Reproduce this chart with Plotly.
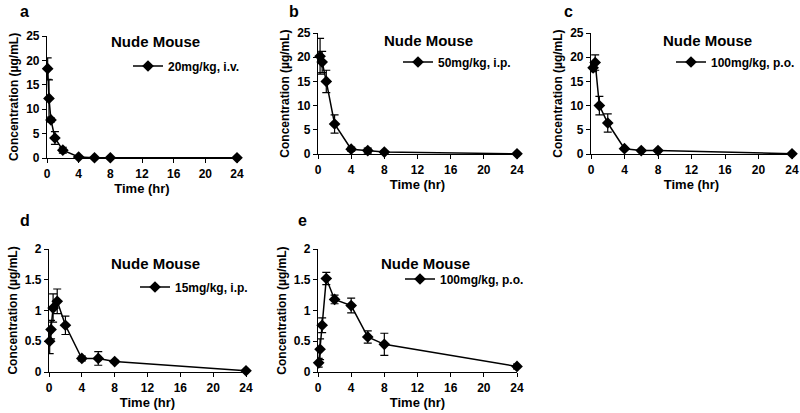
import plotly.graph_objects as go

W, H = 800, 413

# ---- data ----
t_a = [0.083, 0.25, 0.5, 1, 2, 4, 6, 8, 24]
c_a = [18.3, 12.2, 7.8, 4.1, 1.6, 0.2, 0.05, 0.05, 0.05]
e_a = [2.2, 3.8, 0.4, 1.3, 0.6, 0.1, 0, 0, 0]

t_b = [0.25, 0.5, 1, 2, 4, 6, 8, 24]
c_b = [20.2, 19.0, 15.0, 6.2, 1.0, 0.7, 0.4, 0.05]
e_b = [3.7, 2.2, 2.3, 1.9, 0.4, 0.5, 0.2, 0]

t_c = [0.25, 0.5, 1, 2, 4, 6, 8, 24]
c_c = [17.8, 18.9, 10.0, 6.4, 1.1, 0.7, 0.7, 0.05]
e_c = [0.8, 1.6, 1.9, 1.9, 0.2, 0.1, 0.1, 0]

t_d = [0.083, 0.25, 0.5, 1, 2, 4, 6, 8, 24]
c_d = [0.50, 0.69, 1.04, 1.15, 0.76, 0.22, 0.22, 0.17, 0.02]
e_d = [0.2, 0.15, 0.23, 0.2, 0.15, 0.04, 0.11, 0.02, 0.01]

t_e = [0.083, 0.25, 0.5, 1, 2, 4, 6, 8, 24]
c_e = [0.15, 0.37, 0.76, 1.52, 1.18, 1.08, 0.57, 0.45, 0.09]
e_e = [0.07, 0.17, 0.12, 0.1, 0.07, 0.12, 0.1, 0.18, 0.04]

labels = ["20mg/kg, i.v.", "50mg/kg, i.p.", "100mg/kg, p.o.", "15mg/kg, i.p.", "100mg/kg, p.o."]
panel_letters = ["a", "b", "c", "d", "e"]
x_ticks = [0, 4, 8, 12, 16, 20, 24]
y_ticks_top = [0, 5, 10, 15, 20, 25]
y_ticks_bot = [0, 0.5, 1, 1.5, 2]

# ---- layout geometry (pixels) ----
# (x0, x1, ytop, ybottom)
boxes = [(47, 237, 36, 158), (318, 517, 33, 154), (591, 792, 33, 154),
         (49, 246, 249, 372), (318, 517, 249, 372)]
legend_pos = [(128, 66), (398, 62), (671, 62), (135, 287), (400, 279)]
title_pos = [(155, 42), (428, 40), (707, 40), (155, 263), (425, 263)]
letter_pos = [(24, 12), (294, 12), (568, 12), (25, 220), (302, 220)]

series = [(t_a, c_a, e_a), (t_b, c_b, e_b), (t_c, c_c, e_c), (t_d, c_d, e_d), (t_e, c_e, e_e)]

FONT = "Liberation Sans, Arial, sans-serif"
fig = go.Figure()
layout = dict(width=W, height=H, margin=dict(l=0, r=0, t=0, b=0, autoexpand=False),
              paper_bgcolor="white", plot_bgcolor="white",
              font=dict(family=FONT, color="black"), annotations=[])

for i, ((t, c, e), box) in enumerate(zip(series, boxes)):
    n = i + 1
    xa = "x" if n == 1 else f"x{n}"
    ya = "y" if n == 1 else f"y{n}"
    lg = "legend" if n == 1 else f"legend{n}"
    fig.add_trace(go.Scatter(
        x=t, y=c, mode="lines+markers", name=labels[i],
        xaxis=xa, yaxis=ya, legend=lg, cliponaxis=False,
        line=dict(color="black", width=1.5),
        marker=dict(symbol="diamond", size=9, color="black"),
        error_y=dict(type="data", array=e, color="black", thickness=1.2, width=4),
        showlegend=True))
    x0, x1, yt, yb = box
    top = i < 3
    layout["xaxis" if n == 1 else f"xaxis{n}"] = dict(
        domain=[x0 / W, x1 / W], anchor=ya, range=[0, 24], tickvals=x_ticks,
        showline=True, linecolor="black", linewidth=1.2, ticks="outside", ticklen=4,
        tickcolor="black", showgrid=False, zeroline=False,
        tickfont=dict(size=12, family=FONT, weight="bold"),
        title=dict(text="Time (hr)", font=dict(size=13, family=FONT, weight="bold"), standoff=4))
    layout["yaxis" if n == 1 else f"yaxis{n}"] = dict(
        domain=[1 - yb / H, 1 - yt / H], anchor=xa,
        range=[0, 25] if top else [0, 2],
        tickvals=y_ticks_top if top else y_ticks_bot,
        showline=True, linecolor="black", linewidth=1.2, ticks="outside", ticklen=4,
        tickcolor="black", showgrid=False, zeroline=False,
        tickfont=dict(size=12, family=FONT, weight="bold"),
        title=dict(text="Concentration (µg/mL)", font=dict(size=12, family=FONT, weight="bold"), standoff=4))
    lx, ly = legend_pos[i]
    layout[lg] = dict(x=lx / W, y=1 - ly / H, xanchor="left", yanchor="middle",
                      bgcolor="rgba(0,0,0,0)", borderwidth=0,
                      font=dict(size=12, family=FONT, weight="bold"))
    tx, ty = title_pos[i]
    layout["annotations"].append(dict(text="Nude Mouse", x=tx / W, y=1 - ty / H, xref="paper", yref="paper",
                                      showarrow=False, xanchor="center", yanchor="middle",
                                      font=dict(size=15, family=FONT, weight="bold")))
    px, py = letter_pos[i]
    layout["annotations"].append(dict(text=panel_letters[i], x=px / W, y=1 - py / H, xref="paper", yref="paper",
                                      showarrow=False, xanchor="center", yanchor="middle",
                                      font=dict(size=16, family=FONT, weight="bold")))

fig.update_layout(**layout)
fig.write_html("out.html", config={"displayModeBar": False},
               post_script="document.body.style.margin='0';document.body.style.overflow='hidden';")
